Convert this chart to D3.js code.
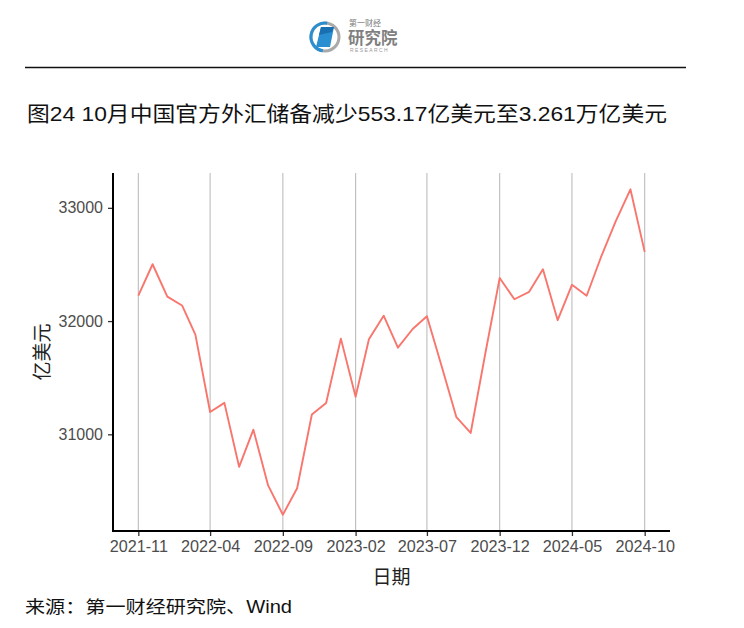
<!DOCTYPE html>
<html>
<head>
<meta charset="utf-8">
<script src="https://cdn.jsdelivr.net/npm/d3@7"></script>
<style>
  html, body { margin: 0; padding: 0; background: #fff; }
  svg { display: block; }
  text { font-family: "Liberation Sans", Arial, "Noto Sans CJK SC", sans-serif; }
</style>
</head>
<body>
<div id="chart"></div>
<script>
// ---- data ----
const months = ["2021-11","2021-12","2022-01","2022-02","2022-03","2022-04","2022-05","2022-06","2022-07","2022-08","2022-09","2022-10",
  "2022-11","2022-12","2023-01","2023-02","2023-03","2023-04","2023-05","2023-06","2023-07","2023-08","2023-09","2023-10",
  "2023-11","2023-12","2024-01","2024-02","2024-03","2024-04","2024-05","2024-06","2024-07","2024-08","2024-09","2024-10"];
const reserves = [32224,32502,32216,32138,31880,31197,31278,30713,31041,30549,30290,30524,
  31175,31277,31845,31332,31839,32048,31765,31930,32043,31601,31151,31012,
  31718,32380,32193,32258,32457,32008,32320,32224,32564,32880,33164,32611];
const xTickLabels = ["2021-11","2022-04","2022-09","2023-02","2023-07","2023-12","2024-05","2024-10"];
const yTickValues = [31000, 32000, 33000];
const titleText = "图24 10月中国官方外汇储备减少553.17亿美元至3.261万亿美元";
const xTitle = "日期";
const yTitle = "亿美元";
const sourceText = "来源：第一财经研究院、Wind";

// ---- layout ----
const W = 744, H = 628;
const panel = {left: 113, right: 670, top: 173, bottom: 531};

const svg = d3.select("#chart").append("svg").attr("width", W).attr("height", H);

const parse = d3.utcParse("%Y-%m");
const dates = months.map(parse);
const data = dates.map((d, i) => ({date: d, value: reserves[i]}));

const t0 = +dates[0], t1 = +dates[dates.length - 1];
const tpad = (t1 - t0) * 0.05;
const x = d3.scaleUtc().domain([new Date(t0 - tpad), new Date(t1 + tpad)]).range([panel.left, panel.right]);
const vmin = d3.min(reserves), vmax = d3.max(reserves);
const vpad = (vmax - vmin) * 0.05;
const y = d3.scaleLinear().domain([vmin - vpad, vmax + vpad]).range([panel.bottom, panel.top]);

// ---- logo ----
const logo = svg.append("g").attr("transform", "translate(325,37)");
logo.append("circle").attr("r", 14).attr("fill", "none").attr("stroke", "#a9a9a9").attr("stroke-width", 3);
logo.append("path").attr("d", d3.arc()({innerRadius: 12.5, outerRadius: 15.5, startAngle: -Math.PI * 0.95, endAngle: Math.PI * 0.05}))
  .attr("fill", "#2a8fd0");
logo.append("path").attr("d", "M-4,-10 L9,-10 L5,10 L-9,10 Z").attr("fill", "#2a8fd0");
logo.append("path").attr("d", "M-4,-10 L9,-10 L7,-5 L-6,-2 Z").attr("fill", "#1a6fb0");
svg.append("text").attr("x", 349).attr("y", 26).attr("font-size", 8).attr("fill", "#7a7a7a")
  .attr("font-family", "Noto Sans CJK SC").text("第一财经");
svg.append("text").attr("x", 348).attr("y", 44).attr("font-size", 16.5).attr("fill", "#7f7f7f")
  .attr("font-family", "Noto Sans CJK SC").attr("font-weight", "bold").text("研究院");
svg.append("text").attr("x", 350).attr("y", 51.5).attr("font-size", 5).attr("fill", "#999")
  .attr("letter-spacing", 1.4).text("RESEARCH");

// horizontal rule
svg.append("line").attr("x1", 25).attr("x2", 686).attr("y1", 67.5).attr("y2", 67.5)
  .attr("stroke", "#111").attr("stroke-width", 1.3);

// title
svg.append("text").attr("x", 27).attr("y", 121).attr("font-size", 21).attr("fill", "#111")
  .attr("textLength", 640).attr("lengthAdjust", "spacingAndGlyphs")
  .style("font-family", "'Liberation Sans', 'Noto Sans CJK SC', sans-serif").text(titleText);

// ---- gridlines ----
const xTicks = xTickLabels.map(parse);
svg.append("g").selectAll("line").data(xTicks).join("line")
  .attr("x1", d => x(d)).attr("x2", d => x(d))
  .attr("y1", panel.top).attr("y2", panel.bottom)
  .attr("stroke", "#bdbdbd").attr("stroke-width", 1.1);

// ---- line ----
const line = d3.line().x(d => x(d.date)).y(d => y(d.value));
svg.append("path").datum(data).attr("d", line)
  .attr("fill", "none").attr("stroke", "#F8766D").attr("stroke-width", 1.9).attr("stroke-linejoin", "round");

// ---- axes ----
const xAxis = d3.axisBottom(x).tickValues(xTicks).tickFormat(d3.utcFormat("%Y-%m")).tickSize(5).tickPadding(4);
const gx = svg.append("g").attr("transform", `translate(0,${panel.bottom})`).call(xAxis);
gx.select(".domain").remove();
gx.selectAll(".tick line").attr("stroke", "#333").attr("stroke-width", 1.3);
gx.selectAll(".tick text").attr("fill", "#4d4d4d").attr("font-size", 16.2)
  .style("font-family", "'Liberation Sans', Arial, sans-serif");

const yAxis = d3.axisLeft(y).tickValues(yTickValues).tickFormat(d3.format("d")).tickSize(5).tickPadding(5);
const gy = svg.append("g").attr("transform", `translate(${panel.left},0)`).call(yAxis);
gy.select(".domain").remove();
gy.selectAll(".tick line").attr("stroke", "#333").attr("stroke-width", 1.3);
gy.selectAll(".tick text").attr("fill", "#4d4d4d").attr("font-size", 16)
  .style("font-family", "'Liberation Sans', Arial, sans-serif");

// axis lines
svg.append("line").attr("x1", panel.left).attr("x2", panel.left).attr("y1", panel.top).attr("y2", panel.bottom + 1)
  .attr("stroke", "#000").attr("stroke-width", 2);
svg.append("line").attr("x1", panel.left - 1).attr("x2", panel.right).attr("y1", panel.bottom).attr("y2", panel.bottom)
  .attr("stroke", "#000").attr("stroke-width", 2);

// axis titles
svg.append("text").attr("x", (panel.left + panel.right) / 2).attr("y", 584).attr("text-anchor", "middle")
  .attr("font-size", 19).attr("fill", "#222").style("font-family", "'Noto Sans CJK SC', sans-serif").text(xTitle);
svg.append("text").attr("transform", `translate(49,${(panel.top + panel.bottom) / 2}) rotate(-90)`)
  .attr("text-anchor", "middle").attr("font-size", 19).attr("fill", "#222")
  .style("font-family", "'Noto Sans CJK SC', sans-serif").text(yTitle);

// source
svg.append("text").attr("x", 25).attr("y", 613).attr("font-size", 17.5).attr("fill", "#111")
  .attr("textLength", 267).attr("lengthAdjust", "spacingAndGlyphs")
  .style("font-family", "'Liberation Sans', 'Noto Sans CJK SC', sans-serif").text(sourceText);
</script>
</body>
</html>
